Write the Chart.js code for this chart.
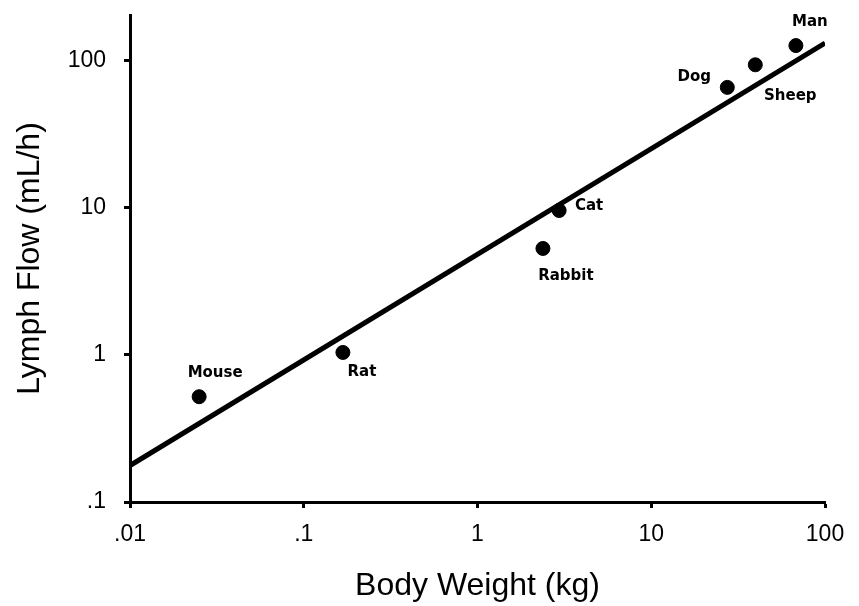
<!DOCTYPE html>
<html>
<head>
<meta charset="utf-8">
<title>Lymph flow vs body weight</title>
<script src="https://cdn.jsdelivr.net/npm/chart.js@4/dist/chart.umd.min.js"></script>
<style>
  html, body { margin: 0; padding: 0; background: #fff; }
  #chart { display: block; }
</style>
</head>
<body>
<canvas id="chart" width="859" height="606"></canvas>
<script>
// Species and their measurements
const species    = ['Mouse', 'Rat', 'Rabbit', 'Cat', 'Dog', 'Sheep', 'Man'];
const bodyWeight = [0.025, 0.168, 2.38, 2.95, 27.4, 39.7, 68];   // kg
const lymphFlow  = [0.52, 1.04, 5.3, 9.6, 66, 94, 127];          // mL/h

// Allometric fit line endpoints (log-log)
const fitWeight = [0.01, 100];
const fitFlow   = [0.177, 132];

// Axis ticks (decades only)
const xTickValues = [0.01, 0.1, 1, 10, 100];
const xTickLabels = ['.01', '.1', '1', '10', '100'];
const yTickValues = [0.1, 1, 10, 100];
const yTickLabels = ['.1', '1', '10', '100'];

// Where each species label sits relative to its point
const labelPlacement = {
  Mouse:  { dx: 16,  dy: -24 },
  Rat:    { dx: 19,  dy: 20 },
  Rabbit: { dx: 23,  dy: 28 },
  Cat:    { dx: 30,  dy: -4 },
  Dog:    { dx: -33, dy: -10 },
  Sheep:  { dx: 35,  dy: 31 },
  Man:    { dx: 14,  dy: -23 }
};

const points = species.map((s, i) => ({ x: bodyWeight[i], y: lymphFlow[i] }));
const fitLine = fitWeight.map((w, i) => ({ x: w, y: fitFlow[i] }));

const speciesLabels = {
  id: 'speciesLabels',
  afterDatasetsDraw(chart) {
    const ctx = chart.ctx;
    const meta = chart.getDatasetMeta(1);
    ctx.save();
    ctx.font = 'bold 15px "DejaVu Sans"';
    ctx.fillStyle = '#000';
    ctx.textAlign = 'center';
    ctx.textBaseline = 'middle';
    meta.data.forEach((pt, i) => {
      const p = labelPlacement[species[i]];
      ctx.fillText(species[i], pt.x + p.dx, pt.y + p.dy);
    });
    ctx.restore();
  }
};

const whiteBg = {
  id: 'whiteBg',
  beforeDraw(chart) {
    const ctx = chart.ctx;
    ctx.save();
    ctx.fillStyle = '#fff';
    ctx.fillRect(0, 0, chart.width, chart.height);
    ctx.restore();
  }
};

function decadeTicks(values) {
  return function (scale) {
    scale.ticks = values.map(v => ({ value: v }));
  };
}

const tickFont  = { family: '"Liberation Sans", Arial, sans-serif', size: 23 };
const titleFont = { family: '"Liberation Sans", Arial, sans-serif', size: 32 };

new Chart(document.getElementById('chart'), {
  type: 'scatter',
  data: {
    datasets: [
      {
        type: 'line',
        data: fitLine,
        borderColor: '#000',
        borderWidth: 5,
        pointRadius: 0,
        fill: false,
        tension: 0
      },
      {
        data: points,
        backgroundColor: '#000',
        borderColor: '#000',
        pointRadius: 7,
        pointHoverRadius: 7
      }
    ]
  },
  options: {
    responsive: false,
    animation: false,
    devicePixelRatio: 1,
    layout: { padding: { top: 15, right: 34, left: 0, bottom: 0 } },
    plugins: {
      legend: { display: false },
      tooltip: { enabled: false }
    },
    scales: {
      x: {
        type: 'logarithmic',
        min: 0.01,
        max: 100,
        afterBuildTicks: decadeTicks(xTickValues),
        afterFit(scale) { scale.height = 104; scale.paddingLeft = 0; scale.paddingRight = 0; },
        border: { display: true, color: '#000', width: 3 },
        grid: { drawOnChartArea: false, drawTicks: true, tickLength: 6, tickColor: '#000', tickWidth: 3 },
        ticks: {
          autoSkip: false,
          maxRotation: 0,
          padding: 13,
          color: '#000',
          font: tickFont,
          callback(value) { return xTickLabels[xTickValues.indexOf(value)]; }
        },
        title: {
          display: true,
          text: 'Body Weight (kg)',
          color: '#000',
          font: titleFont,
          padding: { top: 0, bottom: 1 }
        }
      },
      y: {
        type: 'logarithmic',
        min: 0.1,
        max: 205,
        afterBuildTicks: decadeTicks(yTickValues),
        afterFit(scale) { scale.width = 130; scale.paddingTop = 0; scale.paddingBottom = 0; },
        border: { display: true, color: '#000', width: 3 },
        grid: { drawOnChartArea: false, drawTicks: true, tickLength: 6, tickColor: '#000', tickWidth: 3 },
        ticks: {
          autoSkip: false,
          padding: 18,
          color: '#000',
          font: tickFont,
          callback(value) { return yTickLabels[yTickValues.indexOf(value)]; }
        },
        title: {
          display: true,
          text: 'Lymph Flow (mL/h)',
          color: '#000',
          font: titleFont,
          padding: { top: 11, bottom: 0 }
        }
      }
    }
  },
  plugins: [whiteBg, speciesLabels]
});
</script>
</body>
</html>
